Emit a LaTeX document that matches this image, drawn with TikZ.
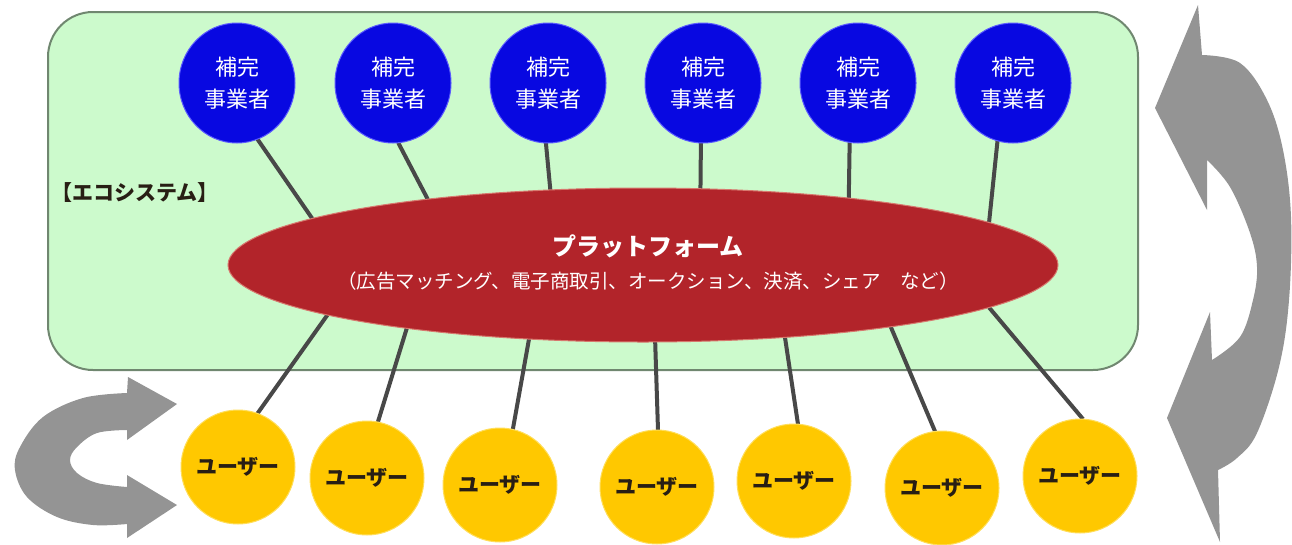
\documentclass[tikz,border=0pt]{standalone}
\usepackage{fontspec}
\setmainfont{Noto Sans CJK JP}
\usetikzlibrary{shapes.geometric}
\pgfdeclarelayer{bg}
\pgfdeclarelayer{lines}
\pgfsetlayers{bg,lines,main}
\definecolor{ecofill}{RGB}{204,250,204}
\definecolor{ecoline}{RGB}{112,135,112}
\definecolor{supblue}{RGB}{8,8,225}
\definecolor{supedge}{RGB}{90,90,255}
\definecolor{platred}{RGB}{178,36,42}
\definecolor{platedge}{RGB}{215,120,110}
\definecolor{useryel}{RGB}{255,200,0}
\definecolor{useredge}{RGB}{255,222,90}
\definecolor{conn}{RGB}{72,72,72}
\definecolor{arrowgray}{RGB}{148,148,148}
\definecolor{darktext}{RGB}{40,30,20}
\tikzset{
  supplier/.style={ellipse, fill=supblue, draw=supedge, line width=1pt,
    minimum width=116pt, minimum height=120pt, inner sep=0pt, outer sep=0pt,
    text=white, align=center, font=\fontsize{22}{32}\selectfont},
  user/.style={circle, fill=useryel, draw=useredge, line width=1pt,
    minimum size=114pt, inner sep=0pt, outer sep=0pt,
    text=darktext, font=\bfseries\fontsize{21}{25}\selectfont},
  link/.style={draw=conn, line width=4pt},
  cyc/.style={fill=arrowgray}
}
\begin{document}
\begin{tikzpicture}[x=1pt,y=-1pt]
\useasboundingbox (0,0) rectangle (1292,544);

% ecosystem box
\begin{pgfonlayer}{bg}
\draw[ecoline, fill=ecofill, line width=2pt, rounded corners=45pt] (48,12) rectangle (1138,370);
\end{pgfonlayer}

\node[anchor=west, text=darktext, font=\bfseries\fontsize{21}{24}\selectfont] (eco) at (48,193) {【エコシステム】};

% platform
\node[ellipse, fill=platred, draw=platedge, line width=1pt, minimum width=830pt, minimum height=154pt,
      inner sep=0pt, outer sep=0pt] (plat) at (643,265) {};
\node[text=white, font=\bfseries\fontsize{24}{28}\selectfont] (ptitle) at (648,246) {プラットフォーム};
\node[text=white, font=\fontsize{19.5}{23}\selectfont] (psub) at (648,281) {（広告マッチング、電子商取引、オークション、決済、シェア　など）};

% suppliers
\node[supplier] (s1) at (237,83) {補完\\事業者};
\node[supplier] (s2) at (393,83) {補完\\事業者};
\node[supplier] (s3) at (548,83) {補完\\事業者};
\node[supplier] (s4) at (703,83) {補完\\事業者};
\node[supplier] (s5) at (858,83) {補完\\事業者};
\node[supplier] (s6) at (1013,83) {補完\\事業者};

% users
\node[user] (u1) at (238,467) {ユーザー};
\node[user] (u2) at (367,478) {ユーザー};
\node[user] (u3) at (500,485) {ユーザー};
\node[user] (u4) at (657,487) {ユーザー};
\node[user] (u5) at (794,481) {ユーザー};
\node[user] (u6) at (942,488) {ユーザー};
\node[user] (u7) at (1080,476) {ユーザー};

% connectors
\begin{pgfonlayer}{lines}
\draw[link] (s1.290) -- (plat.172.7);
\draw[link] (s2.275) -- (plat.163.8);
\draw[link] (s3.268) -- (plat.141.2);
\draw[link] (s4.268) -- (plat.53.1);
\draw[link] (s5.262) -- (plat.18.5);
\draw[link] (s6.255) -- (plat.7.9);
\draw[link] (u1.70) -- (plat.189.3);
\draw[link] (u2.79) -- (plat.195.6);
\draw[link] (u3.77) -- (plat.213.6);
\draw[link] (u4.89) -- (plat.279.6);
\draw[link] (u5.86) -- (plat.333.1);
\draw[link] (u6.97) -- (plat.346.5);
\draw[link] (u7.87) -- (plat.353.8);
\end{pgfonlayer}

% right cycle arrow
\fill[cyc] (1198,5) -- plot[smooth, tension=0.6] coordinates {(1202,55) (1240,63) (1267,100) (1283,150) (1291,217) (1289,300) (1279,367) (1257,433) (1237,458) (1218,470)}
  -- (1220,542) -- (1167,418) -- (1210,312)
  -- plot[smooth, tension=0.6] coordinates {(1212,360) (1240,337) (1253,300) (1257,267) (1250,233) (1230,187) (1207,160)}
  -- (1207,210) -- (1155,108) -- cycle;

% left cycle arrow
\fill[cyc] (177,404) -- (128,377)
  -- plot[smooth, tension=0.6] coordinates {(127,393) (83,398) (43,417) (20,447) (15,470) (27,497) (57,517) (93,525) (127,524)}
  -- (127,538) -- (177,505) -- (127,475)
  -- plot[smooth, tension=0.6] coordinates {(127,487) (97,483) (77,473) (70,460) (77,447) (97,433) (127,430)}
  -- (127,440) -- cycle;
\end{tikzpicture}
\end{document}
